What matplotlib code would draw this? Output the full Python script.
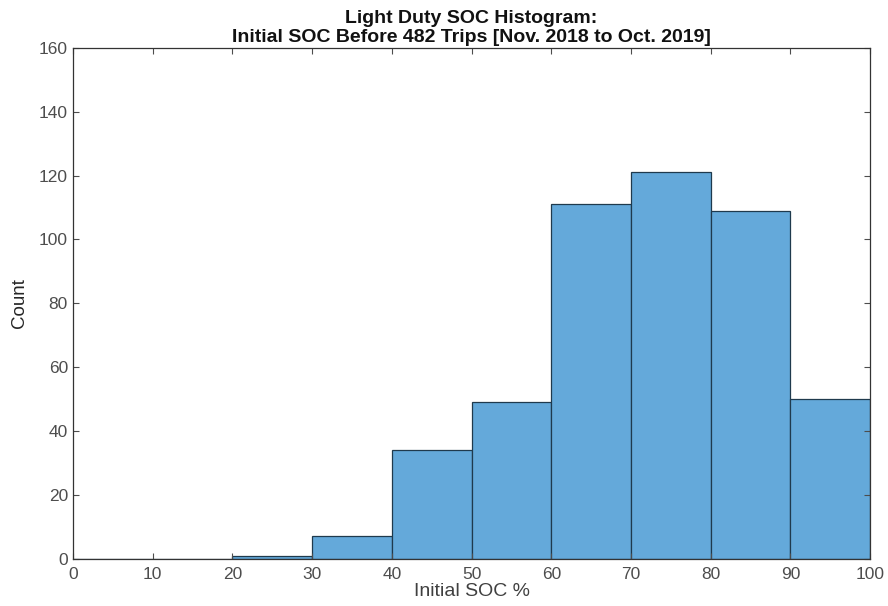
import matplotlib
matplotlib.use("Agg")
import matplotlib.pyplot as plt

plt.rcParams["font.family"] = ["Liberation Sans", "DejaVu Sans"]

# histogram bins (initial SOC %) and counts per bin
bin_edges = [0, 10, 20, 30, 40, 50, 60, 70, 80, 90, 100]
counts = [0, 0, 1, 7, 34, 49, 111, 121, 109, 50]

fig = plt.figure(figsize=(8.88, 6.06), dpi=100)
ax = fig.add_axes([0.082, 0.078, 0.898, 0.843])

lefts = bin_edges[:-1]
widths = [b - a for a, b in zip(bin_edges[:-1], bin_edges[1:])]
ax.bar(lefts, counts, width=widths, align="edge",
       color="#64a9da", edgecolor="#1f3a4d", linewidth=0.9)

ax.set_xlim(0, 100)
ax.set_ylim(0, 160)
ax.set_xticks(range(0, 101, 10))
ax.set_yticks(range(0, 161, 20))
ax.tick_params(direction="in", top=True, right=True, length=4,
               labelsize=12.5, colors="#4d4d4d", width=0.8)
ax.tick_params(axis="x", pad=6)
for s in ax.spines.values():
    s.set_color("#333333")
    s.set_linewidth(0.9)

ax.set_xlabel("Initial SOC %", fontsize=14, color="#404040", labelpad=1)
ax.set_ylabel("Count", fontsize=13.5, color="#262626", labelpad=8)
ax.set_title("Light Duty SOC Histogram:\nInitial SOC Before 482 Trips [Nov. 2018 to Oct. 2019]",
             fontsize=14, fontweight="bold", color="#111111", pad=4)

fig.savefig("out.png", dpi=100)
